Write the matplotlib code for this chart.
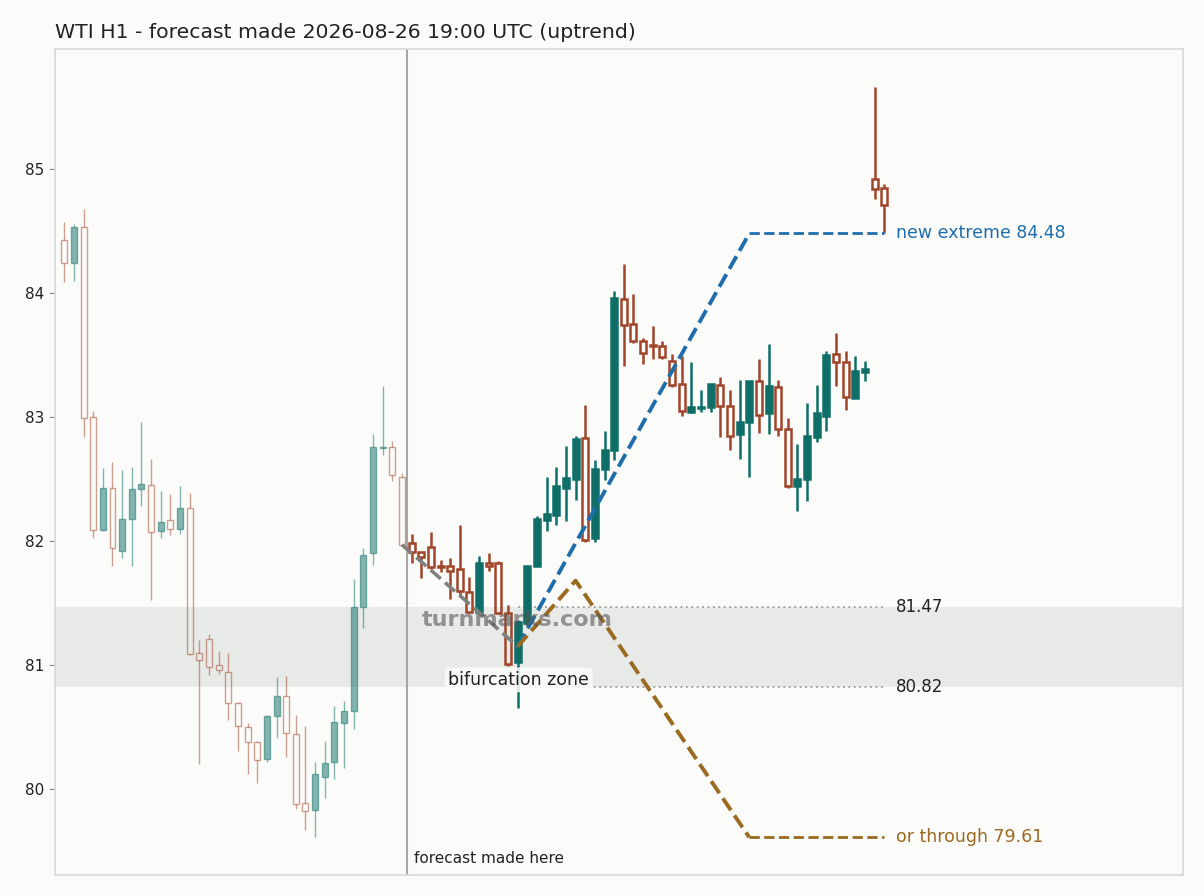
import numpy as np
import matplotlib
matplotlib.use("Agg")
import matplotlib.pyplot as plt

# --- données (bougies H1) ---
opens = [84.43, 84.24, 84.53, 83.00, 82.09, 82.43, 81.92, 82.18, 82.42, 82.45,
         82.08, 82.17, 82.10, 82.27, 81.10, 81.21, 81.00, 80.94, 80.69, 80.50,
         80.38, 80.24, 80.59, 80.75, 80.44, 79.89, 79.83, 80.10, 80.22, 80.53,
         80.63, 81.47, 81.90, 82.75, 82.76, 82.52,
         81.98, 81.91, 81.95, 81.80, 81.80, 81.77, 81.59, 81.43, 81.82, 81.82,
         81.42, 81.02, 81.34, 81.80, 82.17, 82.21, 82.43, 82.50, 82.83, 82.02,
         82.58, 82.73, 83.95, 83.75, 83.61, 83.58, 83.57, 83.45, 83.27, 83.04,
         83.07, 83.08, 83.26, 83.09, 82.86, 82.96, 83.29, 83.03, 83.24, 82.90,
         82.44, 82.50, 82.84, 83.01, 83.51, 83.44, 83.15, 83.36, 84.92, 84.85]
highs = [84.575, 84.56, 84.68, 83.05, 82.59, 82.64, 82.57, 82.60, 82.96, 82.66,
         82.40, 82.38, 82.44, 82.39, 81.20, 81.25, 81.11, 81.10, 80.70, 80.53,
         80.39, 80.60, 80.90, 80.91, 80.60, 80.51, 80.22, 80.39, 80.67, 80.71,
         81.69, 81.94, 82.86, 83.25, 82.81, 82.55,
         82.06, 81.91, 82.07, 81.85, 81.86, 82.13, 81.71, 81.88, 81.90, 81.84,
         81.48, 81.36, 81.80, 82.20, 82.52, 82.60, 82.77, 82.85, 83.10, 82.65,
         82.89, 84.02, 84.23, 83.99, 83.64, 83.73, 83.61, 83.51, 83.49, 83.44,
         83.22, 83.27, 83.32, 83.22, 83.30, 83.29, 83.47, 83.59, 83.30, 82.99,
         82.78, 83.11, 83.26, 83.53, 83.68, 83.53, 83.49, 83.45, 85.66, 84.88]
lows = [84.09, 84.10, 82.84, 82.02, 82.08, 81.80, 81.86, 81.80, 82.28, 81.52,
        82.02, 82.05, 82.06, 81.08, 80.20, 80.92, 80.93, 80.56, 80.31, 80.12,
        80.05, 80.22, 80.41, 80.26, 79.84, 79.67, 79.61, 79.93, 80.08, 80.17,
        80.48, 81.30, 81.81, 82.69, 82.48, 81.97,
        81.82, 81.70, 81.77, 81.75, 81.53, 81.56, 81.42, 81.42, 81.76, 81.41,
        80.99, 80.65, 81.32, 81.80, 82.08, 82.13, 82.16, 82.33, 81.99, 81.99,
        82.49, 82.65, 83.41, 83.60, 83.43, 83.47, 83.47, 83.24, 83.01, 83.03,
        83.04, 83.04, 82.84, 82.73, 82.66, 82.52, 82.87, 82.86, 82.85, 82.43,
        82.24, 82.32, 82.80, 82.89, 83.25, 83.06, 83.15, 83.29, 84.76, 84.48]
closes = [84.24, 84.53, 82.99, 82.09, 82.43, 81.94, 82.18, 82.42, 82.46, 82.07,
          82.15, 82.10, 82.27, 81.09, 81.04, 80.98, 80.96, 80.69, 80.51, 80.38,
          80.23, 80.59, 80.75, 80.45, 79.88, 79.82, 80.12, 80.21, 80.54, 80.63,
          81.47, 81.89, 82.76, 82.76, 82.53, 81.97,
          81.91, 81.87, 81.79, 81.79, 81.76, 81.60, 81.43, 81.82, 81.80, 81.42,
          81.01, 81.35, 81.80, 82.18, 82.22, 82.44, 82.51, 82.82, 82.01, 82.58,
          82.73, 83.96, 83.74, 83.61, 83.52, 83.57, 83.48, 83.26, 83.05, 83.08,
          83.08, 83.27, 83.09, 82.85, 82.96, 83.29, 83.02, 83.25, 82.90, 82.44,
          82.50, 82.85, 83.03, 83.50, 83.44, 83.16, 83.37, 83.39, 84.84, 84.71]
n_past = 36  # bougies avant le point de prévision

# chemins de prévision (index de bougie, prix)
base_x, base_y = [35, 47], [81.97, 81.15]
up_x, up_y = [47, 71, 85], [81.15, 84.48, 84.48]
down_x, down_y = [47, 53, 71, 85], [81.15, 81.68, 79.61, 79.61]
zone_hi, zone_lo = 81.47, 80.82
zone_start, path_end = 47, 85

BG = "#fbfbf9"
BULL = "#0f6e68"
BEAR = "#a0452a"
BLUE = "#1f6eab"
GOLD = "#9a6a20"

fig = plt.figure(figsize=(12.04, 8.96), dpi=100, facecolor=BG)
ax = fig.add_axes([55 / 1204, 21 / 896, 1128 / 1204, 826 / 896], facecolor=BG)

o, h, l, c = (np.array(v) for v in (opens, highs, lows, closes))
x = np.arange(len(o))
top, bot = np.maximum(o, c), np.minimum(o, c)
bull = c >= o

for past in (True, False):
    sel = x < n_past if past else x >= n_past
    alpha = 0.5 if past else 1.0
    lw = 1.0 if past else 1.8
    for is_bull in (True, False):
        m = sel & (bull == is_bull)
        col = BULL if is_bull else BEAR
        ax.vlines(x[m], top[m], h[m], color=col, lw=lw, alpha=alpha, zorder=2)
        ax.vlines(x[m], l[m], bot[m], color=col, lw=lw, alpha=alpha, zorder=2)
        ax.bar(x[m], np.maximum(top[m] - bot[m], 0.012), bottom=bot[m], width=0.62,
               facecolor=col if is_bull else "none", edgecolor=col,
               linewidth=lw, alpha=alpha, zorder=3)

# zone de bifurcation
ax.axhspan(zone_lo, zone_hi, color="#e8eae7", zorder=0, lw=0)
ax.hlines([zone_hi, zone_lo], zone_start, path_end, colors="#9a9a9a",
          linestyles=(0, (1, 2)), lw=1.3, zorder=1)
for lv in (zone_hi, zone_lo):
    ax.text(path_end + 1.2, lv, f"{lv:.2f}", fontsize=12, va="center", color="#222222")

ax.axvline(n_past - 0.5, color="#a3a8a5", lw=1.5, zorder=1)
ax.text(n_past + 0.25, 79.44, "forecast made here", fontsize=11, va="center", color="#222222")

ax.plot(base_x, base_y, color="#808080", ls="--", lw=2.6, zorder=4)
ax.plot(up_x[:2], up_y[:2], color=BLUE, ls="--", lw=2.8, zorder=4)
ax.plot(up_x[1:], up_y[1:], color=BLUE, ls="--", lw=2.0, zorder=4)
ax.plot(down_x[:3], down_y[:3], color=GOLD, ls="--", lw=2.8, zorder=4)
ax.plot(down_x[2:], down_y[2:], color=GOLD, ls="--", lw=2.0, zorder=4)
ax.text(path_end + 1.2, up_y[-1], f"new extreme {up_y[-1]:.2f}", fontsize=12.5,
        va="center", color=BLUE)
ax.text(path_end + 1.2, down_y[-1], f"or through {down_y[-1]:.2f}", fontsize=12.5,
        va="center", color=GOLD)

ax.text(37.1, 81.36, "turnmarks.com", fontsize=16, fontweight="bold", va="center",
        color="#555555", alpha=0.6, zorder=5)
ax.text(39.8, 80.88, "bifurcation zone", fontsize=12.5, va="center", color="#222222", zorder=6,
        bbox=dict(boxstyle="round,pad=0.2", facecolor=BG, edgecolor="none", alpha=0.85))

ax.set_xlim(-0.96, 115.96)
ax.set_ylim(79.306, 85.968)
ax.set_xticks([])
ax.set_yticks([80, 81, 82, 83, 84, 85])
ax.tick_params(axis="y", length=4, color="#888888", labelcolor="#222222", labelsize=11)
for sp in ax.spines.values():
    sp.set_color("#d4dad7")
    sp.set_linewidth(1.2)

fig.text(55 / 1204, 1 - 32 / 896, "WTI H1 - forecast made 2026-08-26 19:00 UTC (uptrend)",
         fontsize=14.7, va="center", color="#222222")

fig.savefig("out.png", dpi=100, facecolor=BG)
